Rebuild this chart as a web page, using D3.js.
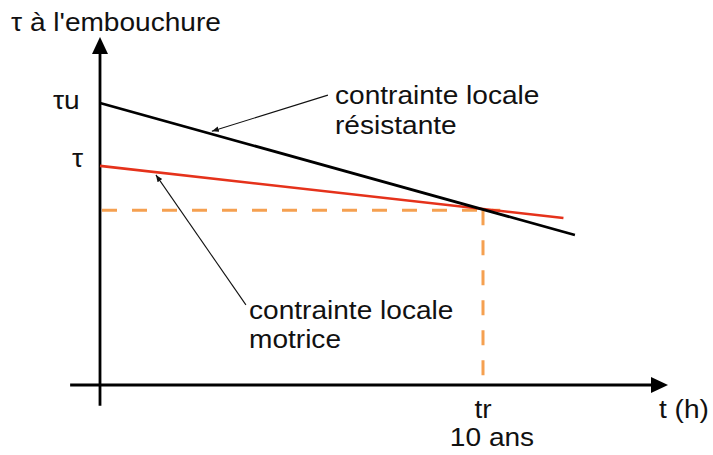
<!DOCTYPE html>
<html>
<head>
<meta charset="utf-8">
<script src="https://cdn.jsdelivr.net/npm/d3@7"></script>
<style>
  html, body { margin: 0; padding: 0; background: #fff; }
  svg { display: block; }
  text { font-family: "Liberation Sans", Arial, Helvetica, sans-serif; fill: #111; }
</style>
</head>
<body>
<svg id="chart" width="713" height="455"></svg>
<script>
// Time in years, shear stress in relative units (τu = 1)
const resistTime   = [0, 12.4];
const resistValues = [1.0, 0.532];
const motorTime    = [0, 12.1];
const motorValues  = [0.777, 0.592];
const crossTime    = [10];
const crossValue   = [0.62];
const yTickValues  = [1.0, 0.777];
const yTickLabels  = ["τu", "τ"];
const xTickLabels  = ["tr", "10 ans"];
const axisExtentT  = [-0.78, 14.83];
const axisExtentV  = [-0.074, 1.234];

const svg = d3.select("#chart");
const x = d3.scaleLinear().domain([0, 10]).range([100, 483]);
const y = d3.scaleLinear().domain([0, 1]).range([385, 103]);

const defs = svg.append("defs");
defs.append("marker")
  .attr("id", "small-head")
  .attr("viewBox", "0 0 10 10")
  .attr("refX", 10).attr("refY", 5)
  .attr("markerWidth", 7).attr("markerHeight", 7)
  .attr("markerUnits", "userSpaceOnUse")
  .attr("orient", "auto")
  .append("path").attr("d", "M0,1 L10,5 L0,9 Z").attr("fill", "#111");

// Axes with filled arrowheads
const axisColor = "#000";
svg.append("line")
  .attr("x1", x(axisExtentT[0])).attr("x2", x(axisExtentT[1]) - 10)
  .attr("y1", y(0)).attr("y2", y(0))
  .attr("stroke", axisColor).attr("stroke-width", 2.8);
svg.append("path")
  .attr("d", `M${x(axisExtentT[1])},${y(0)} L${x(axisExtentT[1]) - 17},${y(0) - 8} L${x(axisExtentT[1]) - 17},${y(0) + 8} Z`)
  .attr("fill", axisColor);
svg.append("line")
  .attr("x1", x(0)).attr("x2", x(0))
  .attr("y1", y(axisExtentV[0])).attr("y2", y(axisExtentV[1]) + 10)
  .attr("stroke", axisColor).attr("stroke-width", 2.8);
svg.append("path")
  .attr("d", `M${x(0)},${y(axisExtentV[1])} L${x(0) - 8},${y(axisExtentV[1]) + 17} L${x(0) + 8},${y(axisExtentV[1]) + 17} Z`)
  .attr("fill", axisColor);

// Dashed guides to the crossing point
const guide = d3.line().x(d => x(d[0])).y(d => y(d[1]));
svg.append("path")
  .attr("d", guide([[0, crossValue[0]], [crossTime[0] + 0.45, crossValue[0]]]))
  .attr("fill", "none").attr("stroke", "#f5a050").attr("stroke-width", 3)
  .attr("stroke-dasharray", "15,15").attr("stroke-dashoffset", -2);
svg.append("path")
  .attr("d", guide([[crossTime[0], crossValue[0]], [crossTime[0], 0]]))
  .attr("fill", "none").attr("stroke", "#f5a050").attr("stroke-width", 3)
  .attr("stroke-dasharray", "15,15");

// Stress lines
const line = d3.line().x(d => x(d.t)).y(d => y(d.v));
const resist = resistTime.map((t, i) => ({ t, v: resistValues[i] }));
const motor = motorTime.map((t, i) => ({ t, v: motorValues[i] }));
svg.append("path").attr("d", line(motor))
  .attr("fill", "none").attr("stroke", "#e5321b").attr("stroke-width", 2.6);
svg.append("path").attr("d", line(resist))
  .attr("fill", "none").attr("stroke", "#000").attr("stroke-width", 2.8);

// Text helper: slightly wide lettering
function label(txt, px, py, size, anchor) {
  svg.append("text")
    .attr("transform", `translate(${px},${py}) scale(1.08,1)`)
    .attr("font-size", size)
    .attr("text-anchor", anchor || "start")
    .text(txt);
}

label("τ à l'embouchure", 11, 31, 26);
label(yTickLabels[0], x(0) - 47, y(yTickValues[0]) + 6, 26);
label(yTickLabels[1], x(0) - 28, y(yTickValues[1]) + 1, 26);
label(xTickLabels[0], x(crossTime[0]), 418, 26, "middle");
label(xTickLabels[1], x(crossTime[0]) + 9, 446, 26, "middle");
label("t (h)", 659, 418, 26);

// Annotations
const t1 = { t: 2.92, v: 0.90 }, s1 = { t: 5.95, v: 1.028 };
svg.append("line")
  .attr("x1", x(s1.t)).attr("y1", y(s1.v)).attr("x2", x(t1.t)).attr("y2", y(t1.v))
  .attr("stroke", "#111").attr("stroke-width", 1.1).attr("marker-end", "url(#small-head)");
label("contrainte locale", 335, 104, 26);
label("résistante", 335, 134, 26);

const t2 = { t: 1.46, v: 0.745 }, s2 = { t: 3.81, v: 0.284 };
svg.append("line")
  .attr("x1", x(s2.t)).attr("y1", y(s2.v)).attr("x2", x(t2.t)).attr("y2", y(t2.v))
  .attr("stroke", "#111").attr("stroke-width", 1.1).attr("marker-end", "url(#small-head)");
label("contrainte locale", 249, 319, 26);
label("motrice", 249, 348, 26);
</script>
</body>
</html>
